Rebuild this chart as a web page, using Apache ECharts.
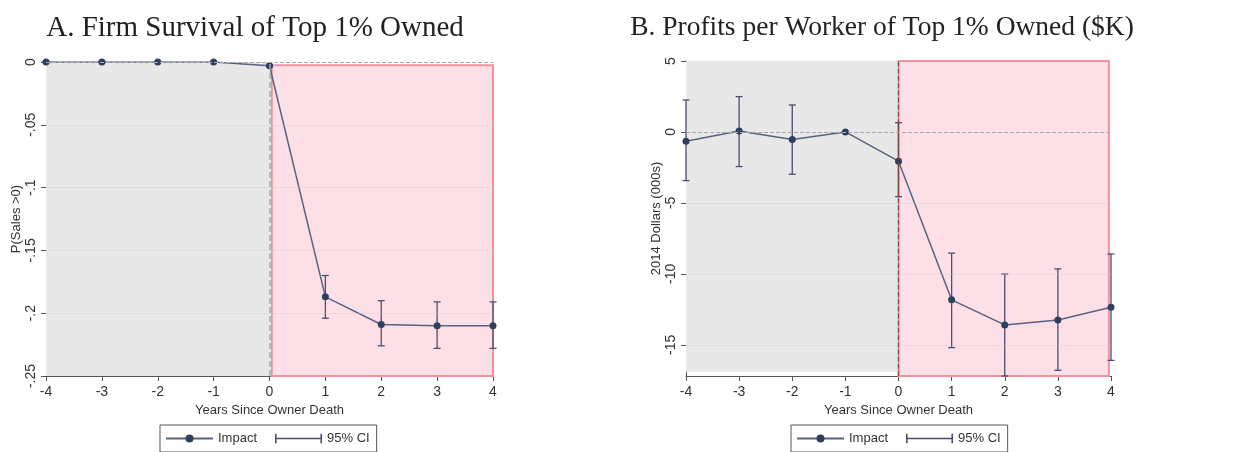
<!DOCTYPE html>
<html><head><meta charset="utf-8">
<script src="https://cdn.jsdelivr.net/npm/echarts@6/dist/echarts.min.js"></script>
<style>html,body{margin:0;padding:0;background:#fff}#c{width:1250px;height:452px}</style>
</head><body><div id="c"></div>
<script>
// ---- data ----
const years = [-4, -3, -2, -1, 0, 1, 2, 3, 4];
const impactA = [0, 0, 0, 0, -0.003, -0.187, -0.209, -0.210, -0.210];
const ciLowA  = [0, 0, 0, 0, -0.004, -0.204, -0.226, -0.228, -0.228];
const ciHighA = [0, 0, 0, 0, -0.002, -0.170, -0.190, -0.191, -0.191];
const impactB = [-0.65, 0.07, -0.54, 0, -2.06, -11.83, -13.6, -13.26, -12.35];
const ciLowB  = [-3.43, -2.44, -2.98, 0, -4.56, -15.2, -17.2, -16.8, -16.1];
const ciHighB = [2.25, 2.49, 1.9, 0, 0.65, -8.54, -10.02, -9.65, -8.6];
const yTicksA = [0, -0.05, -0.1, -0.15, -0.2, -0.25];
const yLabelsA = ['0', '-.05', '-.1', '-.15', '-.2', '-.25'];
const yTicksB = [5, 0, -5, -10, -15];
const yLabelsB = ['5', '0', '-5', '-10', '-15'];
const titleA = 'A. Firm Survival of Top 1% Owned';
const titleB = 'B. Profits per Worker of Top 1% Owned ($K)';
const yNameA = 'P(Sales >0)';
const yNameB = '2014 Dollars (000s)';
const xName = 'Years Since Owner Death';

const lineColor = '#59627f';
const dotColor = '#2f3f5e';
const ciColor = '#4a4e6e';
const axisColor = '#555';
const sans = 'Liberation Sans, Arial, sans-serif';

const chart = echarts.init(document.getElementById('c'), null, {renderer: 'canvas'});

function xAxisCfg(gi) {
  return {
    type: 'value', gridIndex: gi, min: -4, max: 4, interval: 1,
    name: xName, nameLocation: 'middle', nameGap: 23,
    nameTextStyle: {fontFamily: sans, fontSize: 13, color: '#333'},
    axisLine: {onZero: false, lineStyle: {color: axisColor, width: 1}},
    axisTick: {show: true, length: 5, lineStyle: {color: axisColor}},
    axisLabel: {fontFamily: sans, fontSize: 14, color: '#333', margin: 9},
    splitLine: {show: false}
  };
}
function yAxisCfg(gi, min, max, ticks, labels, name, gap) {
  return {
    type: 'value', gridIndex: gi, min: min, max: max,
    name: name, nameLocation: 'middle', nameGap: gap, nameRotate: 90,
    nameTextStyle: {fontFamily: sans, fontSize: 13, color: '#333'},
    axisLine: {show: true, onZero: false, lineStyle: {color: axisColor, width: 1}},
    axisTick: {show: true, length: 5, customValues: ticks, lineStyle: {color: axisColor}},
    axisLabel: {fontFamily: sans, fontSize: 14, color: '#333', rotate: 90, margin: 8,
      customValues: ticks,
      formatter: v => { const i = ticks.findIndex(t => Math.abs(t - v) < 1e-9); return i >= 0 ? labels[i] : ''; }},
    splitLine: {show: false}
  };
}

function errRender(params, api) {
  const x = api.value(0);
  const lo = api.coord([x, api.value(1)]);
  const hi = api.coord([x, api.value(2)]);
  const w = 3.5;
  const st = {stroke: ciColor, lineWidth: 1.3};
  return {type: 'group', children: [
    {type: 'line', shape: {x1: lo[0], y1: lo[1], x2: hi[0], y2: hi[1]}, style: st},
    {type: 'line', shape: {x1: lo[0] - w, y1: lo[1], x2: lo[0] + w, y2: lo[1]}, style: st},
    {type: 'line', shape: {x1: hi[0] - w, y1: hi[1], x2: hi[0] + w, y2: hi[1]}, style: st}
  ]};
}

function gridLines(vals, color) {
  return vals.map(v => ({yAxis: v, lineStyle: {color: color, type: 'solid', width: 1}}));
}

const ciIcon = 'path://M0,0h2v12h-2z M0,5h60v2h-60z M58,0h2v12h-2z';
function legendCfg(left) {
  return {left: left, top: 425, orient: 'horizontal', itemGap: 18, padding: [7, 7, 7, 5],
    borderColor: '#555', borderWidth: 1, itemWidth: 47, itemHeight: 10,
    textStyle: {fontFamily: sans, fontSize: 13, color: '#333'},
    data: [{name: 'Impact'}, {name: '95% CI', icon: ciIcon, itemStyle: {color: ciColor}}]};
}

const option = {
  animation: false,
  backgroundColor: '#fff',
  title: [
    {text: titleA, left: 250, top: 9, textAlign: 'center',
      textStyle: {fontFamily: 'Liberation Serif, serif', fontSize: 29, fontWeight: 'normal', color: '#222'}},
    {text: titleB, left: 877, top: 9, textAlign: 'center',
      textStyle: {fontFamily: 'Liberation Serif, serif', fontSize: 27.5, fontWeight: 'normal', color: '#222'}}
  ],
  legend: [legendCfg(160), legendCfg(791)],
  grid: [
    {left: 46, right: 757, top: 62, bottom: 76},
    {left: 686, right: 139, top: 61, bottom: 76}
  ],
  xAxis: [xAxisCfg(0), xAxisCfg(1)],
  yAxis: [
    yAxisCfg(0, -0.25, 0, yTicksA, yLabelsA, yNameA, 23),
    yAxisCfg(1, -17.2, 5, yTicksB, yLabelsB, yNameB, 22)
  ],
  series: [
    // panel A background regions and reference lines
    {type: 'line', xAxisIndex: 0, yAxisIndex: 0, data: [], silent: true, z: 1,
      markArea: {silent: true, data: [
        [{xAxis: -4, yAxis: 0, itemStyle: {color: '#e8e8e8'}}, {xAxis: 0, yAxis: -0.25}],
        [{xAxis: 0.04, yAxis: -0.0025, itemStyle: {color: '#fde0e7', borderColor: '#f0939e', borderWidth: 2}}, {xAxis: 4, yAxis: -0.25}]
      ]},
      markLine: {silent: true, symbol: 'none', label: {show: false}, data: [
        ...gridLines([-0.05, -0.1, -0.15, -0.2], 'rgba(200,200,200,0.35)'),
        {yAxis: 0, lineStyle: {color: '#aaa', type: 'dashed', width: 1}},
        {xAxis: 0, lineStyle: {color: '#aaa', type: 'dashed', width: 1.5}}
      ]}},
    // panel B background regions and reference lines
    {type: 'line', xAxisIndex: 1, yAxisIndex: 1, data: [], silent: true, z: 1,
      markArea: {silent: true, data: [
        [{xAxis: -4, yAxis: 5, itemStyle: {color: '#e8e8e8'}}, {xAxis: 0, yAxis: -16.9}],
        [{xAxis: 0, yAxis: 5, itemStyle: {color: '#fde0e7', borderColor: '#f0939e', borderWidth: 2}}, {xAxis: 3.96, yAxis: -17.2}]
      ]},
      markLine: {silent: true, symbol: 'none', label: {show: false}, data: [
        ...gridLines([-5, -10, -15], 'rgba(200,200,200,0.35)'),
        {yAxis: 0, lineStyle: {color: '#aaa', type: 'dashed', width: 1}},
        {xAxis: 0, lineStyle: {color: '#a33a3a', type: 'dashed', width: 1.2}}
      ]}},
    // error bars
    {name: '95% CI', type: 'custom', xAxisIndex: 0, yAxisIndex: 0, z: 3,
      itemStyle: {color: ciColor},
      data: years.map((y, i) => [y, ciLowA[i], ciHighA[i]]), renderItem: errRender},
    {name: '95% CI', type: 'custom', xAxisIndex: 1, yAxisIndex: 1, z: 3,
      itemStyle: {color: ciColor},
      data: years.map((y, i) => [y, ciLowB[i], ciHighB[i]]), renderItem: errRender},
    // impact lines
    {name: 'Impact', type: 'line', xAxisIndex: 0, yAxisIndex: 0, z: 4,
      symbol: 'circle', symbolSize: 7, showAllSymbol: true,
      lineStyle: {color: lineColor, width: 1.5}, itemStyle: {color: dotColor},
      data: years.map((y, i) => [y, impactA[i]])},
    {name: 'Impact', type: 'line', xAxisIndex: 1, yAxisIndex: 1, z: 4,
      symbol: 'circle', symbolSize: 7, showAllSymbol: true,
      lineStyle: {color: lineColor, width: 1.5}, itemStyle: {color: dotColor},
      data: years.map((y, i) => [y, impactB[i]])}
  ]
};
chart.setOption(option);
</script>
</body></html>
